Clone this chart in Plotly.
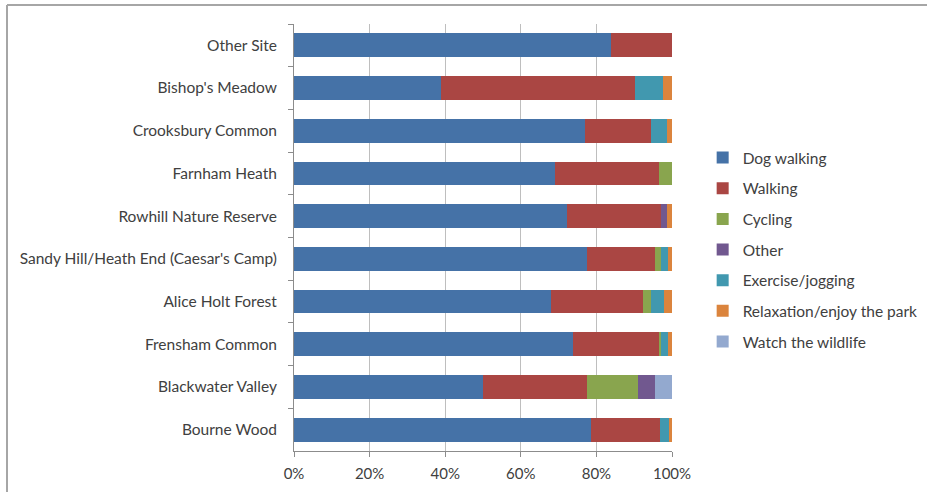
import plotly.graph_objects as go

sites = ["Other Site", "Bishop's Meadow", "Crooksbury Common", "Farnham Heath",
         "Rowhill Nature Reserve", "Sandy Hill/Heath End (Caesar's Camp)",
         "Alice Holt Forest", "Frensham Common", "Blackwater Valley", "Bourne Wood"]

dog_walking = [83.8, 39.0, 77.1, 69.0, 72.2, 77.5, 67.9, 73.8, 50.0, 78.7]
walking     = [16.2, 51.3, 17.4, 27.5, 25.0, 17.9, 24.3, 22.9, 27.4, 18.0]
cycling     = [0.0, 0.0, 0.0, 3.5, 0.0, 1.7, 2.2, 0.4, 13.5, 0.0]
other       = [0.0, 0.0, 0.0, 0.0, 1.4, 0.0, 0.0, 0.0, 4.5, 0.0]
exercise    = [0.0, 7.3, 4.2, 0.0, 0.0, 1.8, 3.4, 1.8, 0.0, 2.5]
relaxation  = [0.0, 2.4, 1.3, 0.0, 1.4, 1.1, 2.2, 1.1, 0.0, 0.8]
wildlife    = [0.0, 0.0, 0.0, 0.0, 0.0, 0.0, 0.0, 0.0, 4.6, 0.0]

series_names = ["Dog walking", "Walking", "Cycling", "Other", "Exercise/jogging",
                "Relaxation/enjoy the park", "Watch the wildlife"]
series_values = [dog_walking, walking, cycling, other, exercise, relaxation, wildlife]
colors = ["#4572A7", "#AA4643", "#89A54E", "#71588F", "#4198AF", "#DB843D", "#93A9CF"]

tick_vals = [0, 20, 40, 60, 80, 100]
tick_text = ["0%", "20%", "40%", "60%", "80%", "100%"]

W, H = 927, 492
ML, MR, MT, MB = 294, 255, 24, 41

fig = go.Figure()
for name, vals, col in zip(series_names, series_values, colors):
    fig.add_trace(go.Bar(
        y=sites, x=vals, name=name, orientation="h",
        marker=dict(color=col, line=dict(width=0)),
        legendgroup=name,
    ))

font_family = "Lato, 'Open Sans', sans-serif"
txt_color = "#404040"

pw = W - ML - MR
ph = H - MT - MB
fx0 = (7 - ML) / pw
fy_top = (H - MB - 5) / ph
fy_bot = (H - MB - H) / ph

fig.update_layout(
    width=W, height=H,
    barmode="stack", bargap=0.443,
    margin=dict(l=ML, r=MR, t=MT, b=MB, pad=0, autoexpand=False),
    paper_bgcolor="white", plot_bgcolor="white",
    font=dict(family=font_family, size=15.5, color=txt_color),
    showlegend=True,
    legend=dict(
        xref="container", yref="container",
        x=0.758, y=1 - 141 / H, xanchor="left", yanchor="top",
        traceorder="grouped", tracegroupgap=7.5,
        itemwidth=30,
        font=dict(family=font_family, size=15.5, color=txt_color),
        bgcolor="rgba(0,0,0,0)",
    ),
    xaxis=dict(
        range=[0, 100], tickvals=tick_vals, ticktext=tick_text,
        automargin=False,
        showgrid=True, gridcolor="#BEBEBE", gridwidth=1,
        showline=True, linecolor="#8C8C8C", linewidth=1,
        ticks="outside", ticklen=5, tickcolor="#8C8C8C",
        ticklabelstandoff=4, zeroline=False,
        tickfont=dict(size=15, color=txt_color),
    ),
    yaxis=dict(
        type="category", autorange="reversed",
        automargin=False,
        showline=True, linecolor="#8C8C8C", linewidth=1,
        ticks="outside", ticklen=5, tickcolor="#8C8C8C",
        tickson="boundaries", ticklabelstandoff=13,
        showgrid=False,
        tickfont=dict(size=15.5, color=txt_color),
    ),
    shapes=[
        dict(type="line", xref="paper", yref="paper", x0=fx0, x1=(W - ML) / pw + 0.1,
             y0=fy_top, y1=fy_top, line=dict(color="#A6A6A6", width=2), layer="above"),
        dict(type="line", xref="paper", yref="paper", x0=fx0, x1=fx0,
             y0=fy_top, y1=fy_bot - 0.1, line=dict(color="#A6A6A6", width=2), layer="above"),
    ],
)

fig.write_html("out.html")
